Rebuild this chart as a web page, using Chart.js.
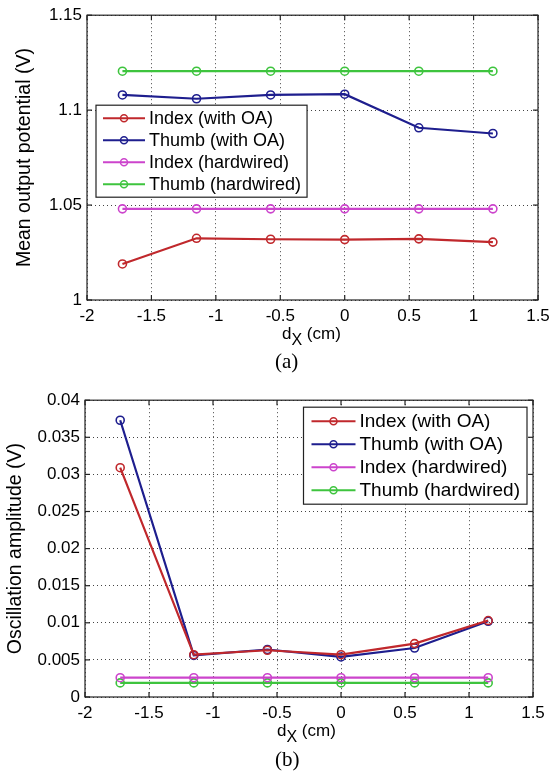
<!DOCTYPE html>
<html>
<head>
<meta charset="utf-8">
<script src="https://cdn.jsdelivr.net/npm/chart.js@4.4.0/dist/chart.umd.min.js"></script>
<style>
  html, body { margin: 0; padding: 0; background: #fff; }
  body { width: 558px; height: 773px; position: relative; overflow: hidden;
         font-family: "Liberation Sans", Arial, sans-serif; }
  .wrap { position: absolute; left: 0; }
  .xt { position: absolute; font-size: 17px; line-height: 1; color: #000; white-space: nowrap; }
  .xt sub { font-size: 16px; vertical-align: -6px; font-weight: normal; }
  .cap { position: absolute; font-family: "Liberation Serif", "Times New Roman", serif;
         font-size: 21px; line-height: 1; color: #000; }
</style>
</head>
<body>
<div class="wrap" style="top:0; width:558px; height:345px;"><canvas id="chartA" width="558" height="345"></canvas></div>
<div class="xt" style="left:282px; top:325px;">d<sub>X</sub> (cm)</div>
<div class="cap" style="left:275px; top:351px;">(a)</div>

<div class="wrap" style="top:385px; width:558px; height:355px;"><canvas id="chartB" width="558" height="355"></canvas></div>
<div class="xt" style="left:277px; top:722px;">d<sub>X</sub> (cm)</div>
<div class="cap" style="left:275px; top:749px;">(b)</div>

<script>
// ---- data ----
const dx = [-1.725, -1.15, -0.575, 0, 0.575, 1.15];
const seriesNames = ['Index (with OA)', 'Thumb (with OA)', 'Index (hardwired)', 'Thumb (hardwired)'];
const seriesColors = ['#c0282c', '#1e1e8e', '#cc44cc', '#3ec43e'];

// (a) mean output potential (V)
const indexOA_a = [1.019, 1.0325, 1.032, 1.0318, 1.0322, 1.0305];
const thumbOA_a = [1.108, 1.106, 1.108, 1.1084, 1.0907, 1.0877];
const indexHW_a = [1.048, 1.048, 1.048, 1.048, 1.048, 1.048];
const thumbHW_a = [1.1205, 1.1205, 1.1205, 1.1205, 1.1205, 1.1205];

// (b) oscillation amplitude (V)
const indexOA_b = [0.0309, 0.0057, 0.0063, 0.0057, 0.0072, 0.0103];
const thumbOA_b = [0.0373, 0.0056, 0.0064, 0.0054, 0.0066, 0.0102];
const indexHW_b = [0.0026, 0.0026, 0.0026, 0.0026, 0.0026, 0.0026];
const thumbHW_b = [0.0019, 0.0019, 0.0019, 0.0019, 0.0019, 0.0019];

const xTicks = [-2, -1.5, -1, -0.5, 0, 0.5, 1, 1.5];
const yTicksA = [1, 1.05, 1.1, 1.15];
const yTicksB = [0, 0.005, 0.01, 0.015, 0.02, 0.025, 0.03, 0.035, 0.04];

const FONT = '"Liberation Sans", Arial, sans-serif';

// matlab style box, inward ticks and an in-plot legend
const matlabFrame = {
    id: 'matlabFrame',
    afterDatasetsDraw(chart, args, opts) {
        const { ctx, chartArea: a, scales: { x, y } } = chart;
        const seg = (x1, y1, x2, y2) => { ctx.beginPath(); ctx.moveTo(x1, y1); ctx.lineTo(x2, y2); ctx.stroke(); };
        ctx.save();
        ctx.setLineDash([]);
        ctx.strokeStyle = '#222';
        ctx.lineWidth = 1.2;
        ctx.strokeRect(a.left, a.top, a.right - a.left, a.bottom - a.top);
        x.ticks.forEach(t => {
            const p = x.getPixelForValue(t.value);
            seg(p, a.bottom, p, a.bottom - 5);
            seg(p, a.top, p, a.top + 5);
        });
        y.ticks.forEach(t => {
            const p = y.getPixelForValue(t.value);
            seg(a.left, p, a.left + 5, p);
            seg(a.right, p, a.right - 5, p);
        });

        // legend
        const L = opts;
        const ds = chart.data.datasets;
        ctx.font = L.size + 'px ' + FONT;
        const tw = Math.max(...ds.map(d => ctx.measureText(d.label).width));
        const w = L.padL + L.lineLen + L.gap + tw + L.padR;
        const h = L.padT * 2 + L.row * (ds.length - 1);
        const bx = L.anchor === 'right' ? a.right - L.dx - w : a.left + L.dx;
        const by = a.top + L.dy;
        ctx.fillStyle = '#fff';
        ctx.fillRect(bx, by, w, h);
        ctx.strokeStyle = '#222';
        ctx.lineWidth = 1.2;
        ctx.strokeRect(bx, by, w, h);
        ds.forEach((d, i) => {
            const cy = by + L.padT + i * L.row;
            const x0 = bx + L.padL;
            ctx.strokeStyle = d.borderColor;
            ctx.lineWidth = 2;
            seg(x0, cy, x0 + L.lineLen, cy);
            ctx.lineWidth = 1.5;
            ctx.beginPath();
            ctx.arc(x0 + L.lineLen / 2, cy, 3.5, 0, Math.PI * 2);
            ctx.stroke();
            ctx.fillStyle = '#000';
            ctx.textBaseline = 'middle';
            ctx.textAlign = 'left';
            ctx.fillText(d.label, x0 + L.lineLen + L.gap, cy + 1);
        });
        ctx.restore();
    }
};

function makeChart(id, series, yTicks, yTitle, cfg) {
    const datasets = series.map((vals, i) => ({
        label: seriesNames[i],
        data: dx.map((v, k) => ({ x: v, y: vals[k] })),
        borderColor: seriesColors[i],
        backgroundColor: 'rgba(0,0,0,0)',
        borderWidth: 2.2,
        pointRadius: 4,
        pointBorderWidth: 1.6,
        pointBackgroundColor: 'rgba(0,0,0,0)',
        pointBorderColor: seriesColors[i],
        tension: 0
    }));

    return new Chart(document.getElementById(id), {
        type: 'line',
        data: { datasets },
        options: {
            responsive: false,
            animation: false,
            layout: { padding: cfg.padding },
            plugins: {
                legend: { display: false },
                tooltip: { enabled: false },
                matlabFrame: cfg.legend
            },
            scales: {
                x: {
                    type: 'linear',
                    min: -2, max: 1.5,
                    afterBuildTicks: s => { s.ticks = xTicks.map(v => ({ value: v })); },
                    afterFit: s => { s.height = cfg.xHeight; },
                    grid: { color: '#444', lineWidth: 1, drawTicks: false },
                    border: { display: false, dash: [1, 3] },
                    ticks: { color: '#000', padding: 6, maxRotation: 0, font: { family: FONT, size: 17 },
                             callback: v => String(v) }
                },
                y: {
                    type: 'linear',
                    min: yTicks[0], max: yTicks[yTicks.length - 1],
                    afterBuildTicks: s => { s.ticks = yTicks.map(v => ({ value: v })); },
                    afterFit: s => { s.width = cfg.yWidth; },
                    grid: { color: '#444', lineWidth: 1, drawTicks: false },
                    border: { display: false, dash: [1, 3] },
                    ticks: { color: '#000', padding: 5, font: { family: FONT, size: 17 },
                             callback: v => String(v) },
                    title: { display: true, text: yTitle, color: '#000',
                             font: { family: FONT, size: 19.5 }, padding: { top: cfg.titlePad, bottom: 0 } }
                }
            }
        },
        plugins: [matlabFrame]
    });
}

makeChart('chartA', [indexOA_a, thumbOA_a, indexHW_a, thumbHW_a], yTicksA, 'Mean output potential (V)', {
    padding: { top: 15, right: 20, left: 0, bottom: 0 },
    xHeight: 45, yWidth: 87, titlePad: 13,
    legend: { anchor: 'left', dx: 9, dy: 90, size: 18, row: 22, padT: 13, padL: 7, padR: 6, lineLen: 42, gap: 4 }
});

makeChart('chartB', [indexOA_b, thumbOA_b, indexHW_b, thumbHW_b], yTicksB, 'Oscillation amplitude (V)', {
    padding: { top: 14, right: 25, left: 0, bottom: 0 },
    xHeight: 43, yWidth: 85, titlePad: 4,
    legend: { anchor: 'right', dx: 6, dy: 7, size: 19, row: 23, padT: 14, padL: 8, padR: 7, lineLen: 44, gap: 4 }
});
</script>
</body>
</html>
